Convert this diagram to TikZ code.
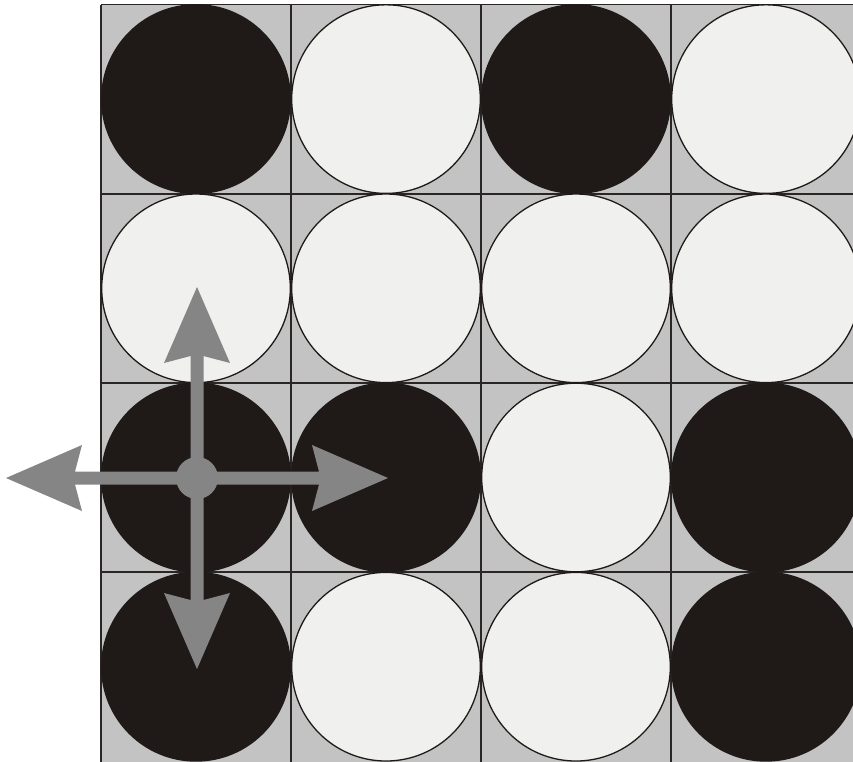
\documentclass[tikz,border=0pt]{standalone}
\definecolor{stoneblack}{HTML}{1F1A18}
\definecolor{stonewhite}{HTML}{F0F0EF}
\definecolor{boardgray}{HTML}{C3C3C3}
\definecolor{arrowgray}{HTML}{858585}
\definecolor{gridline}{HTML}{2A2625}
\tikzset{
  blackstone/.style={fill=stoneblack},
  whitestone/.style={fill=stonewhite, draw=stoneblack, line width=1.3pt},
  gridstroke/.style={draw=gridline, line width=1.8pt},
  arrowshape/.style={fill=arrowgray}
}
\begin{document}
\begin{tikzpicture}[x=1pt,y=1pt]
\useasboundingbox (0,0) rectangle (853,-761);
\clip (0,0) rectangle (853,-761);
% board
\fill[boardgray] (101,-4.5) rectangle (870,-770);
\foreach \gx in {101,291,481,671} \draw[gridstroke] (\gx,-4.5) -- (\gx,-770);
\foreach \gy in {4.5,193.7,382.9,572.1} \draw[gridstroke] (101,-\gy) -- (870,-\gy);
% stones: row by row, B = black, W = white
\def\radius{95}
\foreach \row/\cy in {1/99.1,2/288.3,3/477.5,4/666.7}{
  \foreach \col/\cx in {1/196,2/386,3/576,4/766}{
    \coordinate (s-\row-\col) at (\cx,-\cy);
  }
}
\foreach \p in {1-1,1-3,3-1,3-2,3-4,4-1,4-4}
  \fill[blackstone] (s-\p) circle (\radius);
\foreach \p in {1-2,1-4,2-1,2-2,2-3,2-4,3-3,4-2,4-3}
  \draw[whitestone] (s-\p) circle (94.3);
% arrows
\coordinate (c) at (197,-478);
\foreach \ang in {0,90,180,270}
  \fill[arrowshape, shift={(c)}, rotate=\ang]
    (0,6.5) -- (122,6.5) -- (115,33) -- (191,0) -- (115,-33) -- (122,-6.5) -- (0,-6.5) -- cycle;
\fill[arrowshape] (c) circle (21);
\end{tikzpicture}
\end{document}
